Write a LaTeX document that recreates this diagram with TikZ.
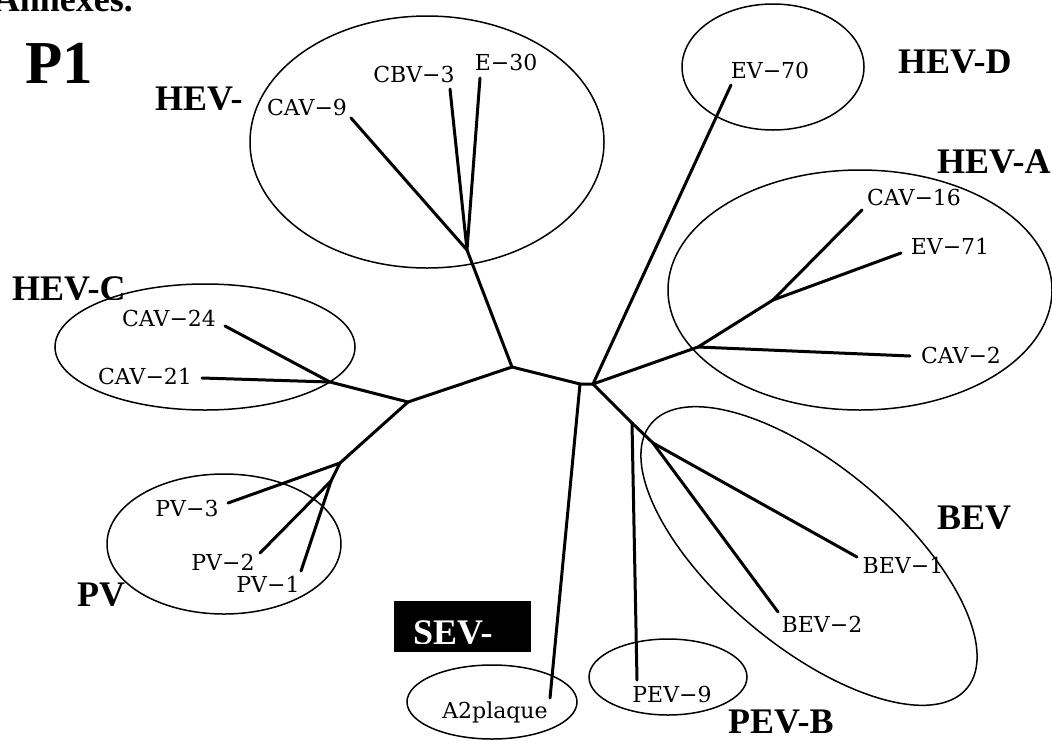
\documentclass[tikz,border=0pt]{standalone}
\usepackage{fontspec}
\setmainfont{Liberation Serif}
\newfontfamily\leaffont{DejaVu Serif}

\tikzset{
  branch/.style={line width=3pt, line cap=round, line join=round},
  group/.style={line width=1.5pt},
  leaf/.style={font=\leaffont\fontsize{22}{24}\selectfont, inner sep=0pt, anchor=base},
  grouptext/.style={font=\bfseries\fontsize{36}{40}\selectfont, inner sep=0pt}
}

\newcommand{\grouplabel}[5][]{%
  \begin{scope}
    \clip (#3-6,#4-14) rectangle (#3+130,#4+22);
    \node[grouptext, anchor=base west, #1] (#2) at (#3,#4+23.6) {#5};
  \end{scope}}

\begin{document}
\begin{tikzpicture}[x=1pt, y=-1pt]
  \useasboundingbox (0,0) rectangle (1052,740);

  \coordinate (r) at (512,367);
  \coordinate (m1) at (580,384);
  \coordinate (m2) at (593,384);
  \coordinate (l) at (408,402);
  \coordinate (hb) at (467,250);
  \coordinate (hc) at (330,382);
  \coordinate (pv) at (340,463);
  \coordinate (pvs) at (331,481);
  \coordinate (ha) at (698,347);
  \coordinate (has) at (773,300);
  \coordinate (bv) at (653,443);
  \coordinate (pe) at (632,423);

  \coordinate (t-cav9) at (351,118);
  \coordinate (t-cbv3) at (450,89);
  \coordinate (t-e30) at (480,78);
  \coordinate (t-ev70) at (731,85);
  \coordinate (t-cav16) at (862,210);
  \coordinate (t-ev71) at (901,253);
  \coordinate (t-cav2) at (910,356);
  \coordinate (t-cav24) at (225,326);
  \coordinate (t-cav21) at (202,378);
  \coordinate (t-pv3) at (228,503);
  \coordinate (t-pv2) at (260,553);
  \coordinate (t-pv1) at (301,571);
  \coordinate (t-a2) at (550,698);
  \coordinate (t-pev9) at (637,680);
  \coordinate (t-bev1) at (857,557);
  \coordinate (t-bev2) at (778,612);

  \draw[group] (427,142) ellipse [x radius=177, y radius=126];
  \draw[group] (773,67) ellipse [x radius=91, y radius=63];
  \draw[group] (860,290) ellipse [x radius=192, y radius=120];
  \draw[group] (205,347) ellipse [x radius=150, y radius=63];
  \draw[group] (224,544) ellipse [x radius=117, y radius=70];
  \draw[group, rotate around={-40:(809,556)}] (809,556) ellipse [x radius=206, y radius=90];
  \draw[group] (492,702) ellipse [x radius=85, y radius=37];
  \draw[group] (668,677) ellipse [x radius=79, y radius=38];

  \draw[branch] (t-cav9) -- (hb) -- (r) -- (m1) -- (m2) -- (t-ev70);
  \draw[branch] (t-cbv3) -- (hb) -- (t-e30);
  \draw[branch] (r) -- (l) -- (hc) -- (t-cav24);
  \draw[branch] (hc) -- (t-cav21);
  \draw[branch] (l) -- (pv) -- (t-pv3);
  \draw[branch] (pv) -- (pvs) -- (t-pv2);
  \draw[branch] (pvs) -- (t-pv1);
  \draw[branch] (m1) -- (t-a2);
  \draw[branch] (m2) -- (ha) -- (has) -- (t-cav16);
  \draw[branch] (has) -- (t-ev71);
  \draw[branch] (ha) -- (t-cav2);
  \draw[branch] (m2) -- (pe) -- (bv) -- (t-bev1);
  \draw[branch] (bv) -- (t-bev2);
  \draw[branch] (pe) -- (t-pev9);

  \node[leaf] (cav9) at (307,115) {CAV−9};
  \node[leaf] (cbv3) at (414,82) {CBV−3};
  \node[leaf] (e30) at (506,70) {E−30};
  \node[leaf] (ev70) at (770,78) {EV−70};
  \node[leaf] (cav16) at (914,205) {CAV−16};
  \node[leaf] (ev71) at (950,254) {EV−71};
  \node[leaf] (cav2) at (961,363) {CAV−2};
  \node[leaf] (cav24) at (169,326) {CAV−24};
  \node[leaf] (cav21) at (145,384) {CAV−21};
  \node[leaf] (pv3) at (187,516) {PV−3};
  \node[leaf] (pv2) at (223,570) {PV−2};
  \node[leaf] (pv1) at (268,592) {PV−1};
  \node[leaf] (a2) at (495,718) {A2plaque};
  \node[leaf] (pev9) at (672,702) {PEV−9};
  \node[leaf] (bev1) at (903,573) {BEV−1};
  \node[leaf] (bev2) at (822,632) {BEV−2};

  \node[grouptext, anchor=base east] (annex) at (133,11) {Annexes.};
  \node[font=\bfseries\fontsize{61}{64}\selectfont, inner sep=0pt, anchor=base west] (p1) at (25,83) {P1};

  \fill[black] (394,601) rectangle (531,652);
  \grouplabel{hevb}{155}{87}{HEV-}
  \grouplabel{hevd}{898}{50}{HEV-D}
  \grouplabel{heva}{937}{150}{HEV-A}
  \grouplabel{hevc}{12}{277}{HEV-C}
  \grouplabel{pvl}{77}{583}{PV}
  \grouplabel{bevl}{937}{506}{BEV}
  \grouplabel{pevb}{728}{710}{PEV-B}
  \grouplabel[white]{sev}{413}{621}{SEV-}
\end{tikzpicture}
\end{document}
